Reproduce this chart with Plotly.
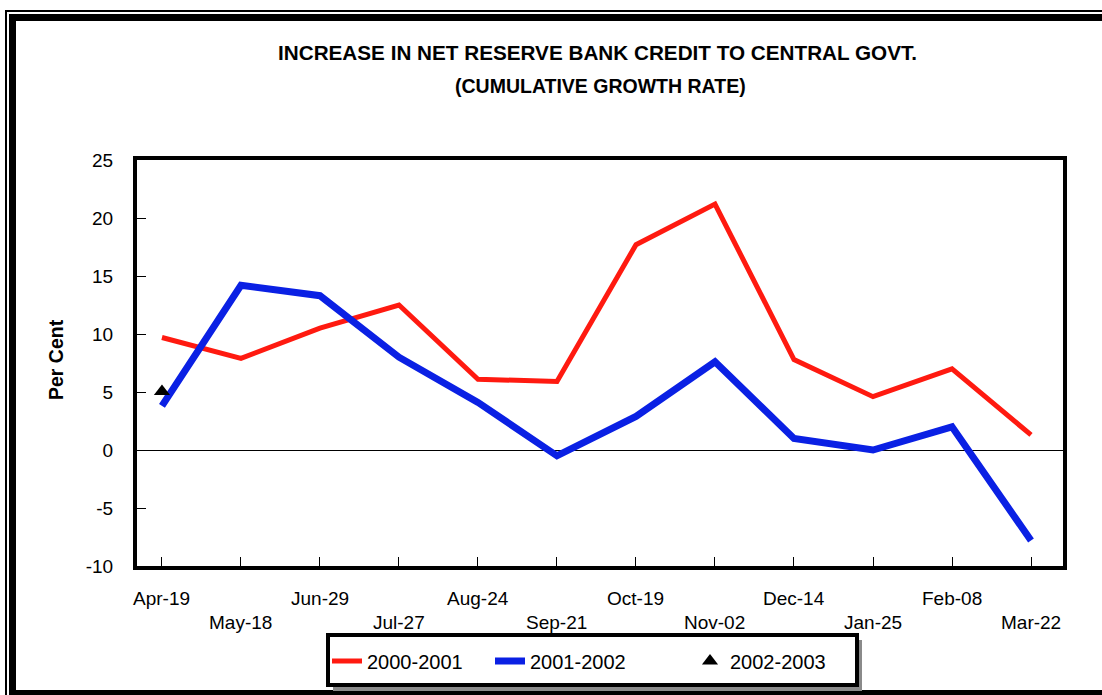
import plotly.graph_objects as go

categories = ["Apr-19", "May-18", "Jun-29", "Jul-27", "Aug-24", "Sep-21",
              "Oct-19", "Nov-02", "Dec-14", "Jan-25", "Feb-08", "Mar-22"]
s2000_2001 = [9.7, 7.9, 10.5, 12.5, 6.1, 5.9, 17.7, 21.2, 7.8, 4.6, 7.0, 1.3]
s2001_2002 = [3.8, 14.2, 13.3, 8.0, 4.1, -0.5, 2.9, 7.6, 1.0, 0.0, 2.0, -7.8]
s2002_2003_x = ["Apr-19"]
s2002_2003 = [5.05]
y_tickvals = [-10, -5, 0, 5, 10, 15, 20, 25]
y_ticktext = ["-10", "-5", "0", "5", "10", "15", "20", "25"]

W, H = 1102, 695
L, R, T, B = 137, 1063, 160, 566  # plot area in pixels


def px(x):
    return (x - L) / (R - L)


def py(y):
    return (B - y) / (B - T)


FONT = "Liberation Sans, Arial, sans-serif"

fig = go.Figure()
fig.add_trace(go.Scatter(x=categories, y=s2000_2001, mode="lines", name="2000-2001",
                         line=dict(color="#FF1A10", width=5), legendwidth=118))
fig.add_trace(go.Scatter(x=categories, y=s2001_2002, mode="lines", name="2001-2002",
                         line=dict(color="#0A20E4", width=7), legendwidth=155))
fig.add_trace(go.Scatter(x=s2002_2003_x, y=s2002_2003, mode="markers", name="2002-2003",
                         marker=dict(symbol="triangle-up", size=14, color="black")))

shapes = [
    # outer double frame
    dict(type="rect", xref="paper", yref="paper", x0=px(6), y0=py(11), x1=px(1110), y1=py(700),
         line=dict(color="black", width=2), layer="below"),
    dict(type="rect", xref="paper", yref="paper", x0=px(12.5), y0=py(17.5), x1=px(1106), y1=py(693.5),
         line=dict(color="black", width=7), layer="below"),
    # legend shadow and box
    dict(type="rect", xref="paper", yref="paper", x0=px(333), y0=py(640), x1=px(862), y1=py(691),
         line=dict(width=0), fillcolor="#8a8a8a", layer="above"),
    dict(type="rect", xref="paper", yref="paper", x0=px(328), y0=py(635), x1=px(857), y1=py(685),
         line=dict(color="black", width=4), fillcolor="white", layer="above"),
]

annotations = [
    dict(text="<b>INCREASE IN NET RESERVE BANK CREDIT TO CENTRAL GOVT.</b>", xref="paper", yref="paper",
         x=px(597), y=py(52), xanchor="center", yanchor="middle", showarrow=False,
         font=dict(family=FONT, size=20.7, color="black")),
    dict(text="<b>(CUMULATIVE GROWTH RATE)</b>", xref="paper", yref="paper",
         x=px(600), y=py(86), xanchor="center", yanchor="middle", showarrow=False,
         font=dict(family=FONT, size=19.5, color="black")),
    dict(text="<b>Per Cent</b>", xref="paper", yref="paper", x=px(56), y=py(360),
         xanchor="center", yanchor="middle", showarrow=False, textangle=-90,
         font=dict(family=FONT, size=19.5, color="black")),
]
for i, c in enumerate(categories):
    annotations.append(dict(text=c, xref="x", yref="paper", x=c,
                            y=py(598 if i % 2 == 0 else 622), xanchor="center", yanchor="middle",
                            showarrow=False, font=dict(family=FONT, size=19, color="black")))

fig.update_layout(
    width=W, height=H,
    margin=dict(l=L, r=W - R, t=T, b=H - B, pad=0),
    paper_bgcolor="white", plot_bgcolor="white",
    showlegend=True,
    legend=dict(orientation="h", x=px(327), y=py(661), xanchor="left", yanchor="middle",
                bgcolor="rgba(0,0,0,0)", borderwidth=0,
                font=dict(family=FONT, size=20, color="black")),
    shapes=shapes,
    annotations=annotations,
    xaxis=dict(type="category", categoryarray=categories, range=[-0.316, 11.405],
               showgrid=False, zeroline=False, showline=True, linecolor="black", linewidth=4,
               mirror=True, ticks="inside", ticklen=9, tickwidth=1, tickcolor="black",
               showticklabels=False),
    yaxis=dict(range=[-10, 25], tickvals=y_tickvals, ticktext=y_ticktext,
               showgrid=False, zeroline=True, zerolinecolor="black", zerolinewidth=1,
               showline=True, linecolor="black", linewidth=4, mirror=True,
               ticks="inside", ticklen=9, tickwidth=1, tickcolor="black",
               ticklabelstandoff=16,
               tickfont=dict(family=FONT, size=19, color="black")),
)

fig.write_html("out.html")
